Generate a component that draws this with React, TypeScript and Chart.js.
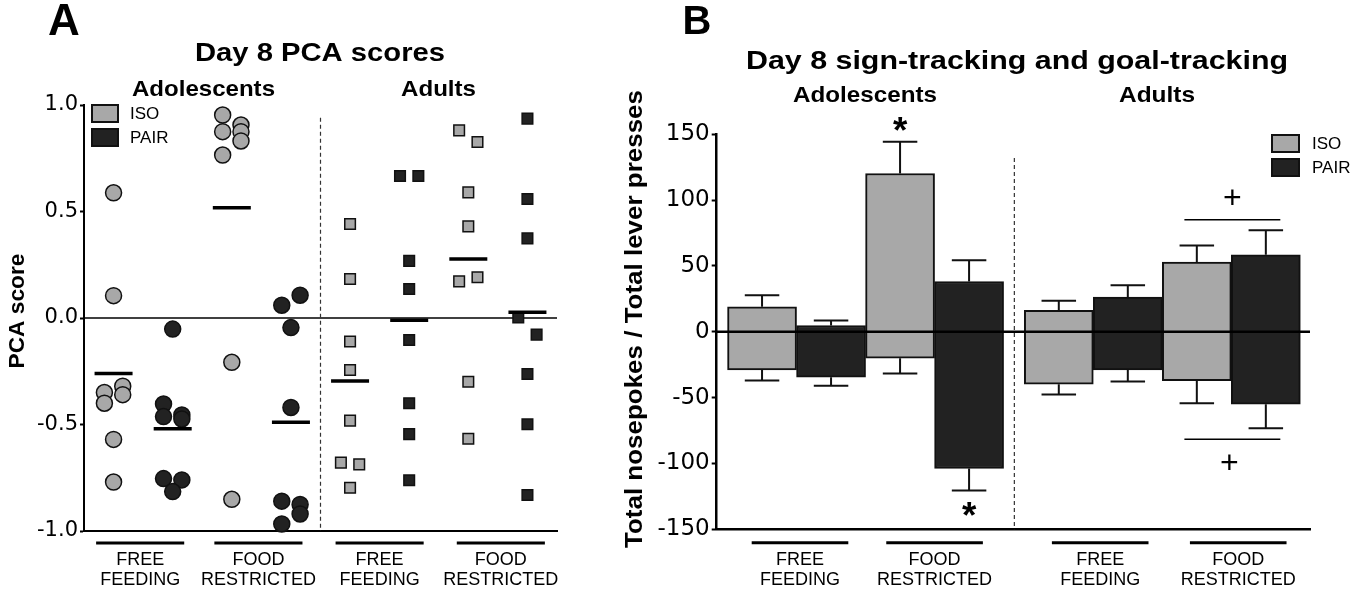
import React, { useEffect, useRef } from 'react';
import { Chart, registerables } from 'chart.js';

Chart.register(...registerables);

// ---------------- Panel A data: Day 8 PCA scores ----------------
// column order: 0 Adol FF ISO, 1 Adol FF PAIR, 2 Adol FR ISO, 3 Adol FR PAIR,
//               4 Adult FF ISO, 5 Adult FF PAIR, 6 Adult FR ISO, 7 Adult FR PAIR
const adoFreeIso = [0.588, 0.105, -0.35, -0.4, -0.32, -0.36, -0.57, -0.77];
const adoFreeIsoJitter = [0, 0, -1, -1, 1, 1, 0, 0];
const adoFreePair = [-0.052, -0.404, -0.463, -0.455, -0.474, -0.754, -0.76, -0.815];
const adoFreePairJitter = [0, -1, -1, 1, 1, -1, 1, 0];
const adoFoodIso = [0.953, 0.875, 0.906, 0.875, 0.831, 0.765, -0.208, -0.851];
const adoFoodIsoJitter = [-1, -1, 1, 1, 1, -1, 0, 0];
const adoFoodPair = [0.06, 0.107, -0.045, -0.42, -0.86, -0.875, -0.92, -0.967];
const adoFoodPairJitter = [-1, 1, 0, 0, -1, 1, 1, -1];
const adultFreeIso = [0.441, 0.183, -0.11, -0.244, -0.482, -0.679, -0.687, -0.797];
const adultFreeIsoJitter = [0, 0, 0, 0, 0, -1, 1, 0];
const adultFreePair = [0.667, 0.667, 0.268, 0.136, -0.103, -0.4, -0.545, -0.762];
const adultFreePairJitter = [-1, 1, 0, 0, 0, 0, 0, 0];
const adultFoodIso = [0.881, 0.826, 0.59, 0.43, 0.172, 0.191, -0.299, -0.567];
const adultFoodIsoJitter = [-1, 1, 0, 0, -1, 1, 0, 0];
const adultFoodPair = [0.936, 0.559, 0.374, 0.003, -0.078, -0.263, -0.499, -0.831];
const adultFoodPairJitter = [0, 0, 0, -1, 1, 0, 0, 0];
const pcaMeans = [-0.26, -0.52, 0.518, -0.49, -0.296, -0.01, 0.277, 0.027];

// ---------------- Panel B data: sign-tracking / goal-tracking ----------------
// order: Adol FF, Adol FR, Adult FF, Adult FR
const isoSign = [19.0, 120.2, 16.4, 52.9];
const isoSignSem = [8.8, 24.1, 7.1, 12.6];
const isoGoal = [-28.9, -20.0, -39.8, -37.2];
const isoGoalSem = [8.1, 11.7, 7.8, 17.0];
const pairSign = [4.8, 38.2, 26.3, 58.5];
const pairSignSem = [3.8, 16.2, 9.1, 18.7];
const pairGoal = [-34.5, -103.8, -28.9, -55.0];
const pairGoalSem = [6.5, 16.7, 8.8, 18.2];

const groupLabels = [
  ['FREE', 'FEEDING'],
  ['FOOD', 'RESTRICTED'],
  ['FREE', 'FEEDING'],
  ['FOOD', 'RESTRICTED'],
];
const legendLabels = ['ISO', 'PAIR'];

// ---------------- styles / layout ----------------
const FONT = '"Liberation Sans", Arial, Helvetica, sans-serif';
const TICK_FONT = '"DejaVu Sans", "Liberation Sans", sans-serif';
const ISO_FILL = '#a8a8a8';
const PAIR_FILL = '#222222';
const EDGE = '#111111';
const JITTER = 0.155;

// bar slot positions on the linear x scale of panel B (gap between age groups)
const barSlotsIso = [0, 2, 4.3, 6.3];
const barSlotsPair = [1, 3, 5.3, 7.3];

function drawText(
  ctx: CanvasRenderingContext2D,
  str: string,
  x: number,
  y: number,
  o: { size: number; bold?: boolean; align?: CanvasTextAlign; width?: number; rotate?: boolean }
) {
  ctx.save();
  ctx.translate(x, y);
  if (o.rotate) ctx.rotate(-Math.PI / 2);
  ctx.font = `${o.bold ? 'bold ' : ''}${o.size}px ${FONT}`;
  ctx.textAlign = o.align || 'center';
  ctx.textBaseline = 'middle';
  ctx.fillStyle = '#000';
  if (o.width) {
    const w = ctx.measureText(str).width;
    ctx.scale(o.width / w, 1);
  }
  ctx.fillText(str, 0, 0);
  ctx.restore();
}

function drawGlyph(ctx: CanvasRenderingContext2D, ch: string, cx: number, cy: number, inkH: number, bold: boolean) {
  ctx.save();
  ctx.font = `${bold ? 'bold ' : ''}100px ${FONT}`;
  ctx.textAlign = 'left';
  ctx.textBaseline = 'alphabetic';
  const m = ctx.measureText(ch);
  const h = m.actualBoundingBoxAscent + m.actualBoundingBoxDescent;
  const s = inkH / h;
  const icx = (m.actualBoundingBoxRight - m.actualBoundingBoxLeft) / 2;
  const icy = (m.actualBoundingBoxDescent - m.actualBoundingBoxAscent) / 2;
  ctx.translate(cx, cy);
  ctx.scale(s, s);
  ctx.fillStyle = '#000';
  ctx.fillText(ch, -icx, -icy);
  ctx.restore();
}

function drawGroupLabels(ctx: CanvasRenderingContext2D, xs: any, bottom: number, centers: number[], half: number, dy: number) {
  ctx.save();
  ctx.strokeStyle = '#000';
  ctx.lineWidth = 3;
  centers.forEach((c, i) => {
    const y = bottom + dy;
    ctx.beginPath();
    ctx.moveTo(xs.getPixelForValue(c - half), y);
    ctx.lineTo(xs.getPixelForValue(c + half), y);
    ctx.stroke();
    const cx = xs.getPixelForValue(c);
    drawText(ctx, groupLabels[i][0], cx, bottom + dy + 17, { size: 18 });
    drawText(ctx, groupLabels[i][1], cx, bottom + dy + 37, { size: 18 });
  });
  ctx.restore();
}

function drawLegend(ctx: CanvasRenderingContext2D, bx: number, by: number, bw: number, bh: number, gap: number, tx: number) {
  ctx.save();
  [ISO_FILL, PAIR_FILL].forEach((fill, i) => {
    const y = by + i * gap;
    ctx.fillStyle = fill;
    ctx.fillRect(bx, y, bw, bh);
    ctx.strokeStyle = EDGE;
    ctx.lineWidth = 2;
    ctx.strokeRect(bx, y, bw, bh);
    drawText(ctx, legendLabels[i], tx, y + bh / 2 + 1, { size: 17, align: 'left' });
  });
  ctx.restore();
}

function toPoints(values: number[], jitter: number[], column: number) {
  return values.map((v, i) => ({ x: column + jitter[i] * JITTER, y: v }));
}

// ---------------- Panel A ----------------
const pcaPlugin = {
  id: 'pcaDecor',
  beforeDatasetsDraw(chart: any) {
    const { ctx, chartArea: ca, scales } = chart;
    const xs = scales.x;
    const ys = scales.y;
    ctx.save();
    const y0 = ys.getPixelForValue(0);
    ctx.strokeStyle = '#000';
    ctx.lineWidth = 1.5;
    ctx.beginPath();
    ctx.moveTo(ca.left, y0);
    ctx.lineTo(ca.right, y0);
    ctx.stroke();
    const xd = xs.getPixelForValue(3.5);
    ctx.setLineDash([4, 3]);
    ctx.lineWidth = 1.2;
    ctx.strokeStyle = '#333';
    ctx.beginPath();
    ctx.moveTo(xd, ys.getPixelForValue(0.94));
    ctx.lineTo(xd, ca.bottom);
    ctx.stroke();
    ctx.restore();
  },
  afterDraw(chart: any) {
    const { ctx, chartArea: ca, scales } = chart;
    drawText(ctx, 'A', 64, 23, { size: 44, bold: true });
    drawText(ctx, 'Day 8 PCA scores', 320, 54, { size: 25, bold: true, width: 250 });
    drawText(ctx, 'Adolescents', 203.5, 89.5, { size: 22, bold: true, width: 143 });
    drawText(ctx, 'Adults', 438.5, 89.5, { size: 22, bold: true, width: 75 });
    drawText(ctx, 'PCA score', 18, 311, { size: 22, bold: true, width: 115, rotate: true });
    drawLegend(ctx, 92, 105, 26, 17, 24, 130);
    drawGroupLabels(ctx, scales.x, ca.bottom, [0.45, 2.45, 4.5, 6.55], 0.745, 12);
  },
};

function PanelA() {
  const ref = useRef<HTMLCanvasElement>(null);
  useEffect(() => {
    const canvas = ref.current!;
    const pointBase = { showLine: false, clip: false as any, pointBorderWidth: 1.5 };
    const chart = new Chart(canvas, {
      type: 'scatter',
      data: {
        datasets: [
          {
            label: 'Mean',
            data: pcaMeans.map((m, i) => ({ x: i, y: m })),
            pointStyle: 'line',
            pointRadius: 19,
            pointBorderWidth: 3.5,
            borderColor: '#000',
            pointBorderColor: '#000',
            showLine: false,
            clip: false as any,
          },
          {
            ...pointBase,
            label: 'Adolescents ISO',
            data: [...toPoints(adoFreeIso, adoFreeIsoJitter, 0), ...toPoints(adoFoodIso, adoFoodIsoJitter, 2)],
            pointStyle: 'circle',
            pointRadius: 8,
            backgroundColor: ISO_FILL,
            pointBackgroundColor: ISO_FILL,
            borderColor: EDGE,
            pointBorderColor: EDGE,
          },
          {
            ...pointBase,
            label: 'Adolescents PAIR',
            data: [...toPoints(adoFreePair, adoFreePairJitter, 1), ...toPoints(adoFoodPair, adoFoodPairJitter, 3)],
            pointStyle: 'circle',
            pointRadius: 8,
            backgroundColor: PAIR_FILL,
            pointBackgroundColor: PAIR_FILL,
            borderColor: EDGE,
            pointBorderColor: EDGE,
          },
          {
            ...pointBase,
            label: 'Adults ISO',
            data: [...toPoints(adultFreeIso, adultFreeIsoJitter, 4), ...toPoints(adultFoodIso, adultFoodIsoJitter, 6)],
            pointStyle: 'rect',
            pointRadius: 7.5,
            backgroundColor: ISO_FILL,
            pointBackgroundColor: ISO_FILL,
            borderColor: EDGE,
            pointBorderColor: EDGE,
          },
          {
            ...pointBase,
            label: 'Adults PAIR',
            data: [...toPoints(adultFreePair, adultFreePairJitter, 5), ...toPoints(adultFoodPair, adultFoodPairJitter, 7)],
            pointStyle: 'rect',
            pointRadius: 7.5,
            backgroundColor: PAIR_FILL,
            pointBackgroundColor: PAIR_FILL,
            borderColor: EDGE,
            pointBorderColor: EDGE,
          },
        ],
      },
      options: {
        responsive: false,
        animation: false,
        events: [],
        layout: { padding: { top: 105, right: 43, left: 0, bottom: 0 } },
        plugins: { legend: { display: false }, tooltip: { enabled: false } },
        scales: {
          x: {
            type: 'linear',
            min: -0.5,
            max: 7.5,
            ticks: { display: false },
            grid: { display: true, drawOnChartArea: false, drawTicks: false },
            border: { display: true, color: '#000', width: 2 },
            afterFit: (s: any) => {
              s.height = 64;
            },
          },
          y: {
            min: -1,
            max: 1,
            ticks: {
              stepSize: 0.5,
              padding: 2,
              color: '#000',
              font: { family: TICK_FONT, size: 21 },
              callback: (v: any) => Number(v).toFixed(1),
            },
            grid: { display: true, drawOnChartArea: false, drawTicks: true, tickLength: 4, tickWidth: 2, tickColor: '#000' },
            border: { display: true, color: '#000', width: 2 },
            afterFit: (s: any) => {
              s.width = 84;
            },
          },
        },
      },
      plugins: [pcaPlugin],
    } as any);
    return () => chart.destroy();
  }, []);
  return <canvas ref={ref} width={600} height={595} style={{ position: 'absolute', left: 0, top: 0 }} />;
}

// ---------------- Panel B ----------------
const stPlugin = {
  id: 'stDecor',
  afterDatasetsDraw(chart: any) {
    const { ctx, chartArea: ca, scales } = chart;
    const xs = scales.x;
    const ys = scales.y;
    ctx.save();
    // zero line
    const y0 = ys.getPixelForValue(0);
    ctx.strokeStyle = '#000';
    ctx.lineWidth = 2.5;
    ctx.beginPath();
    ctx.moveTo(ca.left, y0);
    ctx.lineTo(ca.right, y0);
    ctx.stroke();
    // divider
    const xd = xs.getPixelForValue(3.656);
    ctx.setLineDash([4, 3]);
    ctx.lineWidth = 1.2;
    ctx.strokeStyle = '#333';
    ctx.beginPath();
    ctx.moveTo(xd, ys.getPixelForValue(132));
    ctx.lineTo(xd, ca.bottom);
    ctx.stroke();
    ctx.setLineDash([]);
    // error bars
    const series = [
      { slots: barSlotsIso, sign: isoSign, signSem: isoSignSem, goal: isoGoal, goalSem: isoGoalSem },
      { slots: barSlotsPair, sign: pairSign, signSem: pairSignSem, goal: pairGoal, goalSem: pairGoalSem },
    ];
    ctx.strokeStyle = EDGE;
    ctx.lineWidth = 2;
    series.forEach((s, di) => {
      const meta = chart.getDatasetMeta(di);
      s.slots.forEach((slot, i) => {
        const cx = xs.getPixelForValue(slot);
        const half = meta.data[i].width / 4;
        const pairs = [
          [s.sign[i], s.sign[i] + s.signSem[i]],
          [s.goal[i], s.goal[i] - s.goalSem[i]],
        ];
        pairs.forEach(([from, to]) => {
          const p1 = ys.getPixelForValue(from);
          const p2 = ys.getPixelForValue(to);
          ctx.beginPath();
          ctx.moveTo(cx, p1);
          ctx.lineTo(cx, p2);
          ctx.moveTo(cx - half, p2);
          ctx.lineTo(cx + half, p2);
          ctx.stroke();
        });
      });
    });
    // significance: adolescents food restricted
    const unit = xs.getPixelForValue(1) - xs.getPixelForValue(0);
    drawGlyph(ctx, '*', xs.getPixelForValue(barSlotsIso[1]), ys.getPixelForValue(isoSign[1] + isoSignSem[1]) - 17, 14, true);
    drawGlyph(ctx, '*', xs.getPixelForValue(barSlotsPair[1]), ys.getPixelForValue(pairGoal[1] - pairGoalSem[1]) + 19, 14, true);
    // adults food restricted: brackets with +
    const left = xs.getPixelForValue(barSlotsIso[3]) - 0.18 * unit;
    const right = xs.getPixelForValue(barSlotsPair[3]) + 0.21 * unit;
    const topY =
      Math.min(ys.getPixelForValue(isoSign[3] + isoSignSem[3]), ys.getPixelForValue(pairSign[3] + pairSignSem[3])) - 10.5;
    const botY =
      Math.max(ys.getPixelForValue(isoGoal[3] - isoGoalSem[3]), ys.getPixelForValue(pairGoal[3] - pairGoalSem[3])) + 11;
    ctx.lineWidth = 1.5;
    ctx.strokeStyle = '#000';
    ctx.beginPath();
    ctx.moveTo(left, topY);
    ctx.lineTo(right, topY);
    ctx.moveTo(left, botY);
    ctx.lineTo(right, botY);
    ctx.stroke();
    drawGlyph(ctx, '+', (left + right) / 2, topY - 23, 16, false);
    drawGlyph(ctx, '+', (left + right) / 2 - 3, botY + 23, 16, false);
    ctx.restore();
  },
  afterDraw(chart: any) {
    const { ctx, chartArea: ca, scales } = chart;
    drawText(ctx, 'B', 97, 23, { size: 40, bold: true });
    drawText(ctx, 'Day 8 sign-tracking and goal-tracking', 417, 62, { size: 25, bold: true, width: 542 });
    drawText(ctx, 'Adolescents', 265, 96, { size: 22, bold: true, width: 144 });
    drawText(ctx, 'Adults', 557, 96, { size: 22, bold: true, width: 76 });
    drawText(ctx, 'Total nosepokes / Total lever presses', 35, 319, { size: 24, bold: true, width: 458, rotate: true });
    drawLegend(ctx, 672, 135, 27, 17, 24, 712);
    drawGroupLabels(ctx, scales.x, ca.bottom, [0.55, 2.5, 4.9, 6.9], 0.7, 13.4);
  },
};

function PanelB() {
  const ref = useRef<HTMLCanvasElement>(null);
  useEffect(() => {
    const canvas = ref.current!;
    const barBase = {
      borderColor: EDGE,
      borderWidth: 2,
      borderSkipped: false,
      grouped: false,
      barPercentage: 1,
      categoryPercentage: 1,
    };
    const chart = new Chart(canvas, {
      type: 'bar',
      data: {
        datasets: [
          {
            ...barBase,
            label: 'ISO',
            data: isoSign.map((s, i) => ({ x: barSlotsIso[i], y: [isoGoal[i], s] })),
            backgroundColor: ISO_FILL,
          },
          {
            ...barBase,
            label: 'PAIR',
            data: pairSign.map((s, i) => ({ x: barSlotsPair[i], y: [pairGoal[i], s] })),
            backgroundColor: PAIR_FILL,
          },
        ],
      },
      options: {
        responsive: false,
        animation: false,
        events: [],
        layout: { padding: { top: 134.3, right: 58, left: 0, bottom: 0 } },
        plugins: { legend: { display: false }, tooltip: { enabled: false } },
        scales: {
          x: {
            type: 'linear',
            min: -0.657,
            max: 7.94,
            offset: false,
            ticks: { display: false },
            afterBuildTicks: (s: any) => {
              s.ticks = [...barSlotsIso, ...barSlotsPair].sort((a, b) => a - b).map((v) => ({ value: v }));
            },
            grid: { display: true, drawOnChartArea: false, drawTicks: false },
            border: { display: true, color: '#000', width: 2.5 },
            afterFit: (s: any) => {
              s.height = 65.7;
            },
          },
          y: {
            min: -150,
            max: 150,
            ticks: {
              stepSize: 50,
              padding: 2,
              color: '#000',
              font: { family: TICK_FONT, size: 23 },
              callback: (v: any) => String(v),
            },
            grid: { display: true, drawOnChartArea: false, drawTicks: true, tickLength: 5, tickWidth: 2, tickColor: '#000' },
            border: { display: true, color: '#000', width: 2.5 },
            afterFit: (s: any) => {
              s.width = 116.7;
            },
          },
        },
      },
      plugins: [stPlugin],
    } as any);
    return () => chart.destroy();
  }, []);
  return <canvas ref={ref} width={768} height={595} style={{ position: 'absolute', left: 600, top: 0 }} />;
}

export default function App() {
  useEffect(() => {
    document.body.style.margin = '0';
  }, []);
  return (
    <div style={{ position: 'relative', width: 1368, height: 595, background: '#fff', overflow: 'hidden' }}>
      <PanelA />
      <PanelB />
    </div>
  );
}
